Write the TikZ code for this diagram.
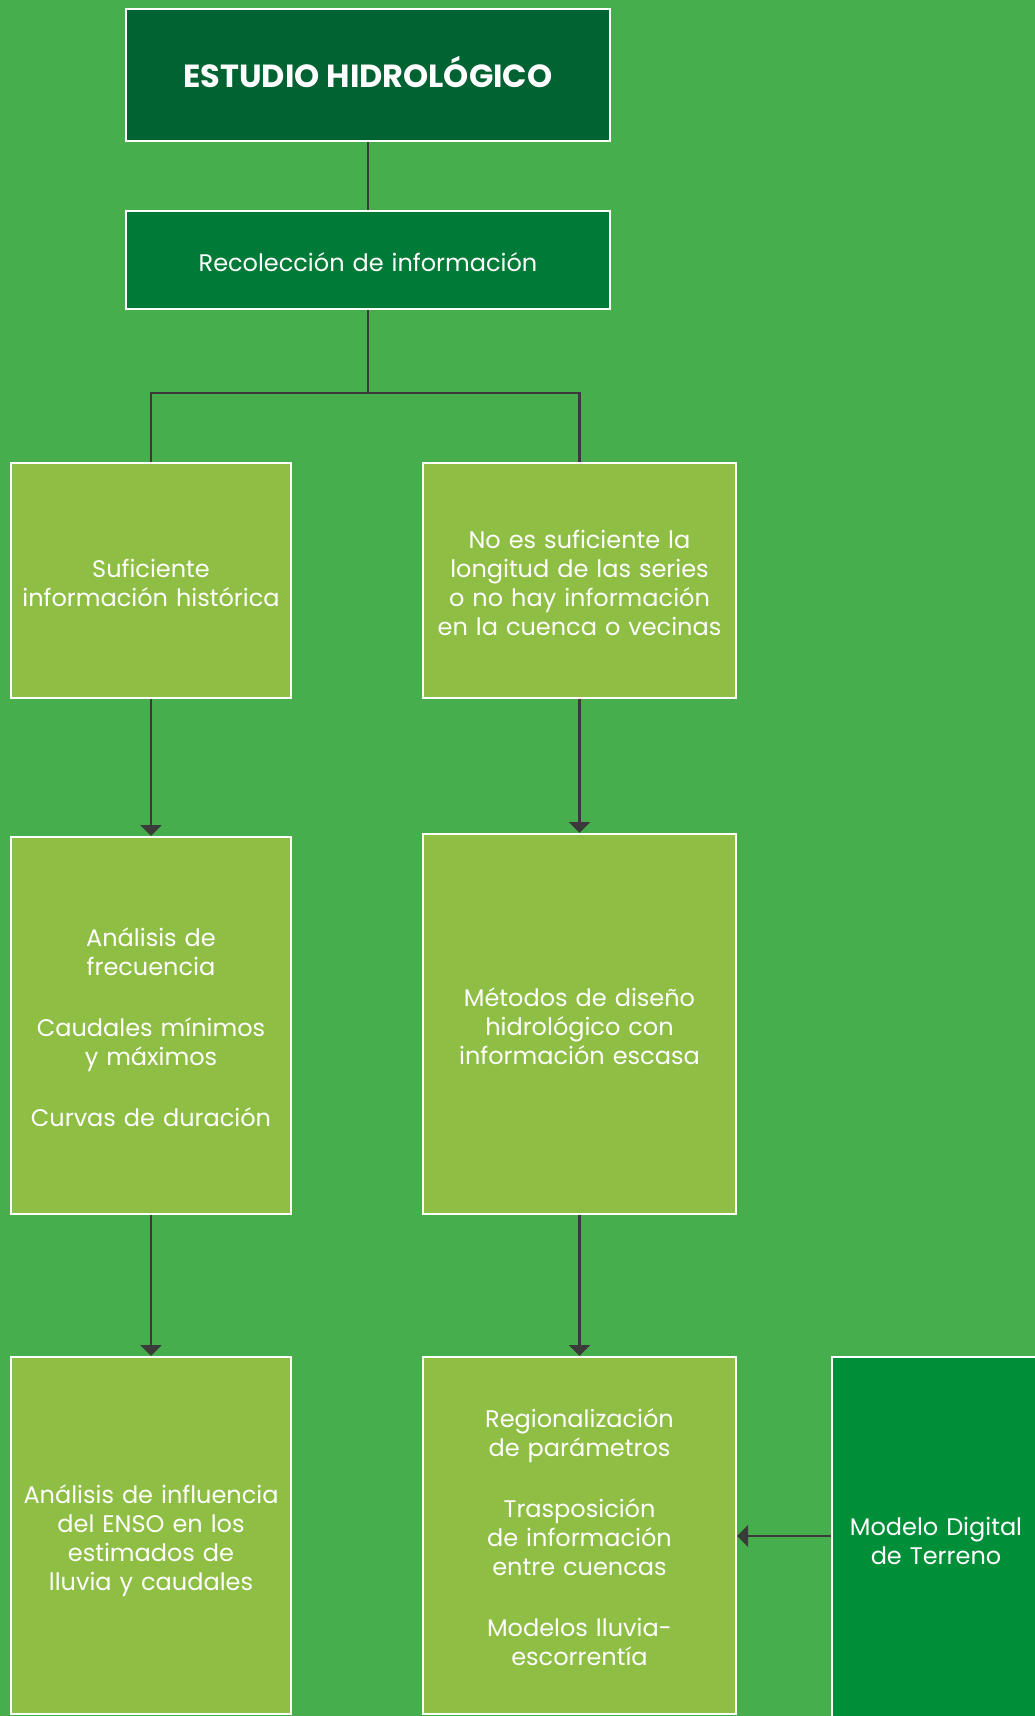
\documentclass[tikz,border=0pt]{standalone}
\usepackage{fontspec}
\setmainfont{Poppins}
\usetikzlibrary{arrows.meta}
\definecolor{bggreen}{HTML}{47AE4E}
\definecolor{titlegreen}{HTML}{006331}
\definecolor{stepgreen}{HTML}{007B37}
\definecolor{lightgreen}{HTML}{8FBE44}
\definecolor{sidegreen}{HTML}{008F39}
\definecolor{linkgray}{HTML}{3A3A3A}
% fixed line struts so every text block is centred on its line boxes
\newcommand{\topstrut}{\rule{0pt}{29pt}}
\newcommand{\botstrut}{\rule[-7pt]{0pt}{7pt}}
\tikzset{
  box/.style={draw=white, line width=2pt, text=white, align=center,
    inner sep=0pt, font=\fontsize{24}{29}\selectfont,
    execute at begin node=\topstrut, execute at end node=\botstrut},
  lightbox/.style={box, fill=lightgreen},
  narrow/.style={minimum width=280pt, text width=272pt},
  wide/.style={minimum width=313pt, text width=305pt},
  link/.style={draw=linkgray, line width=2.6pt},
  flow/.style={link, -{Triangle[width=21pt,length=11pt]}}
}
\begin{document}
\begin{tikzpicture}[x=1pt,y=-1pt]
  \useasboundingbox (0,0) rectangle (1035,1716);
  \fill[bggreen] (0,0) rectangle (1035,1716);
  \begin{scope}
    \clip (0,0) rectangle (1035,1716);
    % header and first step
    \node[box, fill=titlegreen, minimum width=484pt, minimum height=132pt,
          execute at begin node={}, execute at end node={},
          font=\fontsize{32}{36}\bfseries\selectfont] (top) at (368,75) {ESTUDIO HIDROLÓGICO};
    \node[box, fill=stepgreen, minimum width=484pt, text width=470pt, minimum height=98pt] (rec) at (368,260)
      {Recolección de información};
    % first row
    \node[lightbox, narrow, minimum height=235pt] (suf) at (151,580.5)
      {Suficiente\\información histórica};
    \node[lightbox, wide, minimum height=235pt] (nos) at (579.5,580.5)
      {No es suficiente la\\longitud de las series\\o no hay información\\en la cuenca o vecinas};
    % second row
    \node[lightbox, narrow, minimum height=377pt] (ana) at (151,1025.5)
      {Análisis de\\frecuencia\\[32pt]Caudales mínimos\\y máximos\\[32pt]Curvas de duración};
    \node[lightbox, wide, minimum height=380pt] (met) at (579.5,1024)
      {Métodos de diseño\\hidrológico con\\información escasa};
    % third row
    \node[lightbox, narrow, minimum height=357pt] (enso) at (151,1535.5)
      {Análisis de influencia\\del ENSO en los\\estimados de\\lluvia y caudales};
    \node[lightbox, wide, minimum height=357pt] (reg) at (579.5,1535.5)
      {Regionalización\\de parámetros\\[32pt]Trasposición\\de información\\entre cuencas\\[32pt]Modelos lluvia-\\escorrentía};
    \node[box, fill=sidegreen, minimum width=208pt, text width=200pt, minimum height=363pt] (mdt) at (936,1538.5)
      {Modelo Digital\\de Terreno};
  \end{scope}
  % connectors
  \draw[link] (top.south) -- (rec.north);
  \draw[link] (rec.south) -- ++(0,83) coordinate (split) -| (suf.north);
  \draw[link] (split) -| (nos.north);
  \draw[flow] (suf.south) -- (ana.north);
  \draw[flow] (nos.south) -- (met.north);
  \draw[flow] (ana.south) -- (enso.north);
  \draw[flow] (met.south) -- (reg.north);
  \draw[flow] (mdt.west |- 0,1536) -- (reg.east |- 0,1536);
\end{tikzpicture}
\end{document}
